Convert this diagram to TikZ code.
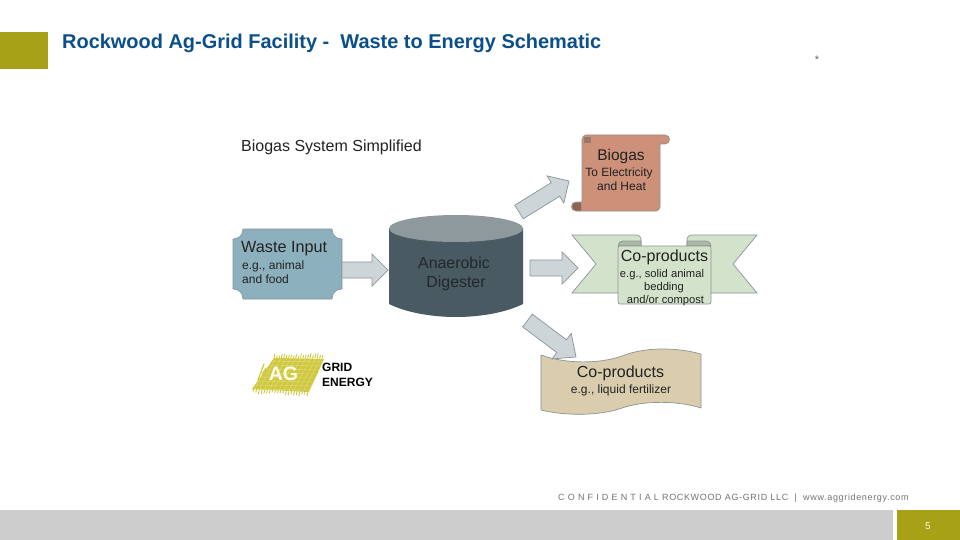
\documentclass[tikz,border=0pt]{standalone}
\usepackage{fontspec}
\setmainfont{Liberation Sans}
\usetikzlibrary{calc}
\definecolor{gold}{HTML}{A6A117}
\definecolor{titleblue}{HTML}{0B4F8A}
\definecolor{arrowfill}{HTML}{CDD5D9}
\definecolor{edgegrey}{HTML}{8C9496}
\definecolor{txt}{HTML}{222222}
\definecolor{plaque}{HTML}{8DB0BE}
\definecolor{digbody}{HTML}{4A5A62}
\definecolor{digtop}{HTML}{8E999E}
\definecolor{digtxt}{HTML}{20282C}
\definecolor{scroll}{HTML}{CD9079}
\definecolor{curl}{HTML}{8B6655}
\definecolor{curlb}{HTML}{9B7767}
\definecolor{ribbon}{HTML}{D3E2CB}
\definecolor{fold}{HTML}{AAB8A4}
\definecolor{wave}{HTML}{D9CDAE}
\definecolor{aglogo}{HTML}{CFC83C}
\definecolor{aglight}{HTML}{DFDA80}
\tikzset{
  x=1pt,y=-1pt,
  lbl/.style={inner sep=0pt,anchor=base west,text=txt},
  ctr/.style={inner sep=0pt,anchor=base,text=txt},
  blockarrow/.style={draw=edgegrey,fill=arrowfill,line width=0.7pt,line join=miter},
  shapeline/.style={draw=edgegrey,line width=0.7pt,line join=round},
  fs/.style={font=\fontsize{#1}{#1}\selectfont},
}
\newcommand{\blockarrow}[4]{%
  \coordinate (j) at ($(#2)!#3pt!(#1)$);
  \draw[blockarrow] ($(#1)!8pt!90:(#2)$) -- ($(j)!8pt!-90:(#1)$) -- ($(j)!#4pt!-90:(#1)$) -- (#2)
    -- ($(j)!#4pt!90:(#1)$) -- ($(j)!8pt!90:(#1)$) -- ($(#1)!8pt!-90:(#2)$) -- cycle;
}
\begin{document}
\begin{tikzpicture}
\useasboundingbox (0,0) rectangle (960,540);
\fill[white] (0,0) rectangle (960,540);
% header and footer
\fill[gold] (0,32) rectangle (48,69);
\fill[black!20] (0,510) rectangle (893,540);
\fill[gold] (897,510) rectangle (960,540);
\node[lbl,text=titleblue,font=\bfseries\fontsize{19.95}{20}\selectfont] (title) at (62,48.5) {Rockwood Ag-Grid Facility -\ \ Waste to Energy Schematic};
\node[ctr,fs=11,text=black!60] (star) at (817,63.5) {*};
\node[lbl,text=black!55,font=\fontsize{9}{9}\selectfont\addfontfeature{LetterSpace=7.3}] (foot) at (558,500) {C O N F I D E N T I A L ROCKWOOD AG-GRID LLC\ \ |\ \ www.aggridenergy.com};
\node[ctr,text=white!85!yellow,font=\fontsize{10}{10}\selectfont] (page) at (928,529) {5};
\node[lbl,fs=16] (sub) at (241,152) {Biogas System Simplified};

% waste input plaque
\draw[shapeline,fill=plaque] (243,229) -- (332,229) .. controls (332,235) and (336,239) .. (342,239)
  -- (342,289) .. controls (336,289) and (332,293) .. (332,299) -- (243,299)
  .. controls (243,293) and (239,289) .. (233,289) -- (233,239) .. controls (239,239) and (243,235) .. (243,229) -- cycle;
\node[lbl,fs=16.2] (waste) at (241,252.5) {Waste Input};
\node[lbl,fs=12] (wastea) at (242,269) {e.g., animal};
\node[lbl,fs=12] (wasteb) at (242,283) {and food};

% digester
\fill[digbody] (389,228) -- (389,304) .. controls (405,312) and (430,317) .. (456,317) .. controls (482,317) and (507,312) .. (523,304) -- (523,228) -- cycle;
\fill[digtop] (456,228.5) ellipse[x radius=67,y radius=13.5];
\node[ctr,fs=15.9,text=digtxt] (dig1) at (454,268.5) {Anaerobic};
\node[ctr,fs=15.9,text=digtxt] (dig2) at (456,287.5) {Digester};

% biogas scroll
\draw[shapeline,fill=scroll] (586,135) -- (665,135) .. controls (671,135) and (671,144) .. (665,144) -- (660,144) -- (660,207)
  .. controls (660,209) and (658,211) .. (656,211) -- (576,211)
  .. controls (570,211) and (570,202) .. (576,202) -- (582,202) -- (582,140) .. controls (582,137) and (584,135) .. (586,135) -- cycle;
\fill[curl] (576,202.5) .. controls (571,202.5) and (571,210.5) .. (576,210.5) -- (581,210.5) -- (581,202.5) -- cycle;
\fill[curlb] (584,137) rectangle (591,143.5);
\node[ctr,fs=15.5] (bio1) at (621,160.5) {Biogas};
\node[ctr,fs=12] (bio2) at (619,176) {To Electricity};
\node[ctr,fs=12] (bio3) at (621.5,190) {and Heat};

% solid co-products ribbon
\draw[shapeline,fill=ribbon] (572,235) -- (637,235) .. controls (639,235) and (641,237) .. (641,239) -- (641,250) -- (618,293) -- (572,293) -- (596,264) -- cycle;
\draw[shapeline,fill=ribbon] (757,235) -- (691,235) .. controls (689,235) and (687,237) .. (687,239) -- (687,250) -- (711,293) -- (757,293) -- (733,264) -- cycle;
\draw[shapeline,fill=fold] (618,246) .. controls (618,243) and (620,241) .. (623,241) -- (641,241) -- (641,246) -- cycle;
\draw[shapeline,fill=fold] (711,246) .. controls (711,243) and (709,241) .. (706,241) -- (687,241) -- (687,246) -- cycle;
\draw[shapeline,fill=ribbon,rounded corners=2pt] (618,246) rectangle (711,304);
\node[ctr,fs=16] (sol1) at (664.5,261.5) {Co-products};
\node[ctr,fs=11.2] (sol2) at (662,277) {e.g., solid animal};
\node[ctr,fs=11.2] (sol3) at (664,290) {bedding};
\node[ctr,fs=11.2] (sol4) at (665.5,303) {and/or compost};

% liquid co-products wave
\draw[shapeline,fill=wave] (541,355) .. controls (565,364) and (600,364) .. (622,356)
  .. controls (645,347) and (675,347) .. (701,354) -- (701,408)
  .. controls (680,401) and (645,400) .. (622,408) .. controls (600,416) and (565,416) .. (541,410) -- cycle;
\node[ctr,fs=16] (liq1) at (620.5,377.5) {Co-products};
\node[ctr,fs=12] (liq2) at (621,393) {e.g., liquid fertilizer};

% AG logo
\fill[aglogo] (274,358) -- (324,359) -- (309,392) -- (252,389) -- cycle;
\pgfmathsetseed{7}
\begin{scope}
\clip (274,358) -- (324,359) -- (309,392) -- (252,389) -- cycle;
\foreach \k in {0,1,...,7}{
  \draw[aglight,line width=0.5pt] ({270-\k*2.6},{361+\k*4}) -- ({323-\k*2.2},{362+\k*4});
}
\foreach \k in {0,1,...,11}{
  \draw[aglight,line width=0.5pt] ({272+\k*5},356) -- ({252+\k*5},394);
}
\end{scope}
\foreach \k in {0,1,...,20}{
  \pgfmathsetmacro{\h}{2+3*rnd}
  \draw[aglogo,line width=0.9pt] ({274+\k*2.4},358.5) -- ({275+\k*2.4},{358-\h});
  \pgfmathsetmacro{\hb}{1.5+3*rnd}
  \draw[aglogo,line width=0.9pt] ({254+\k*2.7},{389+\k*0.14}) -- ({253+\k*2.7},{389.5+\k*0.14+\hb});
}
\draw[aglogo,line width=1.2pt,line cap=round] (258,380) -- (264,364);
\draw[aglogo,line width=1pt,line cap=round] (262,374) -- (266,368);
\node[ctr,text=white!92!yellow,font=\bfseries\fontsize{19.5}{20}\selectfont] (ag) at (283.5,380) {AG};
\node[lbl,text=black,font=\bfseries\fontsize{12}{12}\selectfont] (grid1) at (322,371) {GRID};
\node[lbl,text=black,font=\bfseries\fontsize{12}{12}\selectfont] (grid2) at (322,386) {ENERGY};

% block arrows
\coordinate (a1s) at (342,270); \coordinate (a1t) at (388,270);
\coordinate (a2s) at (530,268); \coordinate (a2t) at (578,268);
\coordinate (a3s) at (519,212); \coordinate (a3t) at (569,181);
\coordinate (a4s) at (527.5,320.5); \coordinate (a4t) at (576,357);
\blockarrow{a1s}{a1t}{16}{16}
\blockarrow{a2s}{a2t}{16}{16}
\blockarrow{a3s}{a3t}{16}{16}
\blockarrow{a4s}{a4t}{18}{16}
\end{tikzpicture}
\end{document}
